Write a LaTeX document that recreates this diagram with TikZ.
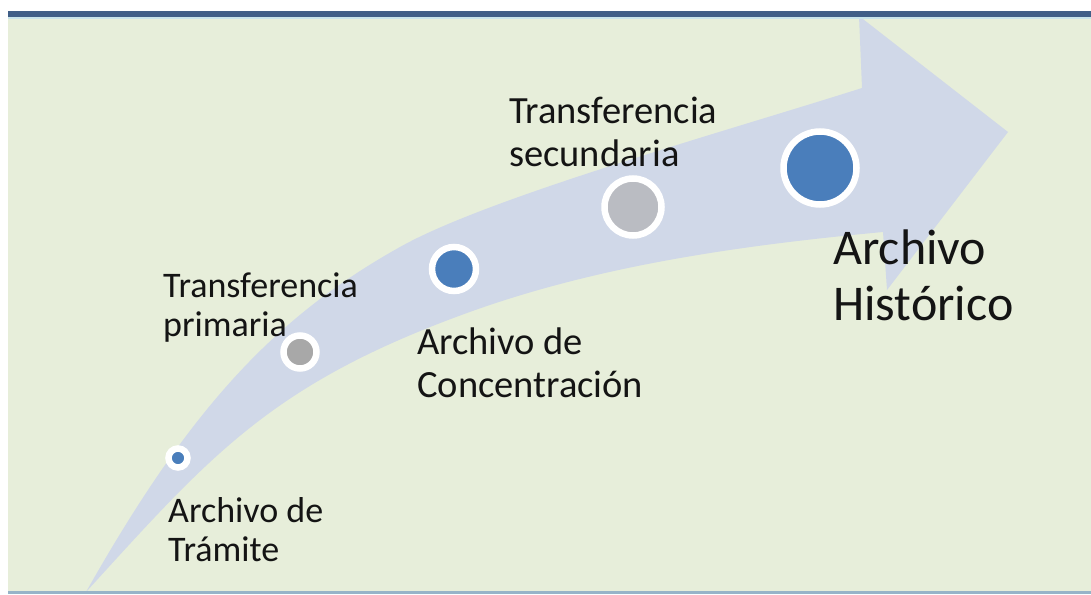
\documentclass[tikz,border=0pt]{standalone}
\usepackage{fontspec}
\setmainfont{Carlito}

\definecolor{paper}{RGB}{231,238,218}
\definecolor{topband}{RGB}{64,94,135}
\definecolor{bandline}{RGB}{200,228,234}
\definecolor{footline}{RGB}{150,180,200}
\definecolor{arrowfill}{RGB}{208,216,232}
\definecolor{stageblue}{RGB}{74,126,187}
\definecolor{stagegray}{RGB}{168,168,168}
\definecolor{stagelight}{RGB}{186,188,194}
\definecolor{inktext}{RGB}{20,20,20}

\tikzstyle{stage}=[circle,draw=white,line width=6.5pt,inner sep=0pt]
\tikzstyle{caption}=[anchor=north west,inner sep=0pt,align=left,text=inktext]
\newcommand{\capsize}[2]{\fontsize{#1}{#2}\selectfont}

\begin{document}
\begin{tikzpicture}[x=1pt, y=-1pt]
    \useasboundingbox (0,0) rectangle (1091,594);
    % First we draw the slide background
    \fill[paper] (8,17) rectangle (1091,592);
    % The big curved arrow
    \fill[arrowfill] (86,592) .. controls (185,417) and (269,320) .. (400,247)
        .. controls (487,198) and (720,133) .. (862,88) -- (859,16) -- (1008,132)
        -- (887,290) -- (883,232) .. controls (744,245) and (599,265) .. (467,313)
        .. controls (271,384) and (210,456) .. (86,592) -- cycle;
    \fill[topband] (8,11) rectangle (1091,17);
    \fill[bandline] (8,17) rectangle (1091,19);
    \fill[footline] (8,591) rectangle (1091,594);
    % Then the stages along the arrow
    \foreach \pos/\name/\size/\col in {{(178,458)/tramite/19pt/stageblue}, {(300,352)/primaria/33pt/stagegray},
        {(454,269)/concentracion/44pt/stageblue}, {(633,207)/secundaria/57pt/stagelight}, {(820,168)/historico/73pt/stageblue}}
        \node[stage, fill=\col, minimum size=\size] (\name) at \pos {};
    % Captions
    \node[caption, font=\capsize{36pt}{39pt}] (captramite) at (168,497) {Archivo de\\Trámite};
    \node[caption, font=\capsize{36pt}{39pt}] (capprimaria) at (163,273) {Transferencia\\primaria};
    \node[caption, font=\capsize{38.5pt}{43pt}] (capconcentracion) at (417,328) {Archivo de\\Concentración};
    \node[caption, font=\capsize{38.5pt}{43pt}] (capsecundaria) at (509,97) {Transferencia\\secundaria};
    \node[caption, font=\capsize{50pt}{56pt}] (caphistorico) at (833,230) {Archivo\\Histórico};
\end{tikzpicture}
\end{document}
